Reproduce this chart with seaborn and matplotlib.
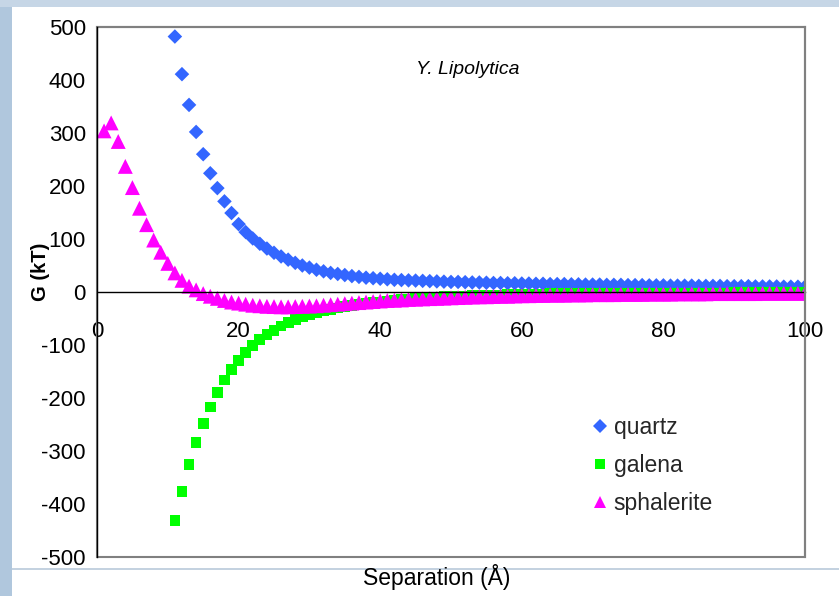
import numpy as np
import pandas as pd
import matplotlib
matplotlib.use("Agg")
import matplotlib.pyplot as plt
from matplotlib.patches import Rectangle
import seaborn as sns

# Interaction free energy G (kT) against separation (Å) for Y. lipolytica
quartz_sep = list(range(11, 101))
quartz_g = [482, 411, 353, 302, 260, 224, 196, 171, 149, 128,
            113, 101, 91, 82, 74, 67, 61, 55, 50, 46,
            42, 39, 36, 34, 32, 30, 28.5, 27, 26, 25,
            24, 23, 22.5, 22, 21.5, 21, 20.5, 20, 19.5, 19,
            19, 18.5, 18, 18, 17.5, 17, 17, 16.5, 16.5, 16,
            16, 15.5, 15.5, 15, 15, 15, 14.5, 14.5, 14, 14,
            14, 13.5, 13.5, 13.5, 13, 13, 13, 12.5, 12.5, 12.5,
            12, 12, 12, 12, 11.5, 11.5, 11.5, 11.5, 11, 11,
            11, 11, 10.5, 10.5, 10.5, 10.5, 10, 10, 10, 10]

galena_sep = list(range(11, 101))
galena_g = [-431, -376, -326, -284, -248, -217, -190, -166, -146, -129,
            -114, -101, -90, -80, -72, -64, -58, -52, -47, -43,
            -39, -36, -33, -30, -28, -26, -24, -22, -20.5, -19,
            -17.5, -16, -14.5, -13, -12, -11, -10, -9.5, -9, -8.5,
            -8, -7.5, -7, -6.5, -6, -5.5, -5.5, -5, -5, -4.5,
            -4.5, -4, -4, -3.5, -3.5, -3.5, -3, -3, -3, -3,
            -2.5, -2.5, -2.5, -2.5, -2.5, -2.5, -2.5, -2.5, -2.5, -2,
            -2, -2, -2, -2, -2, -2, -2, -2, -2, -1.5,
            -1.5, -1.5, -1.5, -1.5, -1.5, -1.5, -1.5, -1.5, -1.5, -1.5]

sphalerite_sep = list(range(1, 101))
sphalerite_g = [304, 319, 284, 237, 197, 158, 127, 98, 75, 54,
                36, 22, 11, 4, -3, -8, -12, -16, -19, -21,
                -23, -25, -26, -27, -27.5, -28, -28, -27.5, -27, -26.5,
                -26, -25, -24, -23, -22, -21, -20, -19, -18, -17,
                -16, -15.5, -15, -14, -13.5, -13, -12.5, -12, -11.5, -11,
                -10.5, -10, -9.5, -9, -9, -8.5, -8, -8, -7.5, -7,
                -7, -6.5, -6.5, -6, -6, -6, -5.5, -5.5, -5.5, -5,
                -5, -5, -5, -4.5, -4.5, -4.5, -4.5, -4, -4, -4,
                -4, -3.5, -3.5, -3.5, -3.5, -3.5, -3, -3, -3, -3,
                -3, -3, -3, -2.5, -2.5, -2.5, -2.5, -2.5, -2.5, -2.5]

minerals = ["quartz", "galena", "sphalerite"]
colors = {"quartz": "#3366FF", "galena": "#00FF00", "sphalerite": "#FF00FF"}
markers = {"quartz": "D", "galena": "s", "sphalerite": "^"}
marker_area = {"quartz": 55, "galena": 60, "sphalerite": 115}
legend_marker_size = {"quartz": 7.5, "galena": 7, "sphalerite": 8.5}

x_ticks = [0, 20, 40, 60, 80, 100]
y_ticks = [-500, -400, -300, -200, -100, 0, 100, 200, 300, 400, 500]

df = pd.concat([
    pd.DataFrame({"Separation": quartz_sep, "G": quartz_g, "mineral": "quartz"}),
    pd.DataFrame({"Separation": galena_sep, "G": galena_g, "mineral": "galena"}),
    pd.DataFrame({"Separation": sphalerite_sep, "G": sphalerite_g, "mineral": "sphalerite"}),
], ignore_index=True)

sns.set_theme(style="white")
plt.rcParams["font.family"] = ["Liberation Sans", "DejaVu Sans"]

fig = plt.figure(figsize=(8.39, 5.96), dpi=100)
fig.patch.set_facecolor("white")

# pale blue slide backdrop along the left and top edges
W, H = 839, 596
fig.patches.append(Rectangle((0, 0), 12 / W, 1, transform=fig.transFigure,
                             facecolor="#b0c7dd", edgecolor="none", zorder=0))
fig.patches.append(Rectangle((0, 1 - 7 / H), 1, 7 / H, transform=fig.transFigure,
                             facecolor="#c6d6e6", edgecolor="none", zorder=0))
fig.lines.append(plt.Line2D([12 / W, 1], [1 - 569 / H, 1 - 569 / H],
                            transform=fig.transFigure, color="#b9c9da", lw=1.2))

ax = fig.add_axes([97 / W, 1 - 557 / H, (805 - 97) / W, (557 - 27) / H])
ax.set_facecolor("white")

sns.scatterplot(data=df, x="Separation", y="G", hue="mineral", style="mineral",
                size="mineral", hue_order=minerals, style_order=minerals,
                size_order=minerals, sizes=marker_area,
                palette=colors, markers=markers, linewidth=0,
                ax=ax)

ax.set_xlim(0, 100)
ax.set_ylim(-500, 500)
ax.set_xticks(x_ticks)
ax.set_yticks(y_ticks)
ax.set_xticklabels([str(v) for v in x_ticks])
ax.set_yticklabels([str(v) for v in y_ticks])

# x axis drawn through G = 0, plot-area frame in grey
ax.spines["bottom"].set_position(("data", 0))
ax.spines["bottom"].set_color("black")
ax.spines["bottom"].set_linewidth(1.0)
ax.spines["left"].set_color("black")
ax.spines["left"].set_linewidth(1.0)
ax.spines["left"].set_zorder(5)
for side in ("top", "right"):
    ax.spines[side].set_color("#808080")
    ax.spines[side].set_linewidth(1.5)
ax.add_patch(Rectangle((0, 0), 1, 1, transform=ax.transAxes, fill=False,
                       edgecolor="#808080", lw=1.5, clip_on=False, zorder=4))

ax.tick_params(axis="both", which="major", direction="out", length=5, width=1,
               color="black", labelsize=16, labelcolor="black")
ax.tick_params(axis="y", pad=3)
ax.tick_params(axis="x", pad=16)

ax.set_xlabel("")
ax.set_ylabel("")
fig.text(437 / W, 1 - 577 / H, "Separation (Å)", ha="center", va="center",
         fontsize=16.5, color="black")
fig.text(41 / W, 1 - 272 / H, "G (kT)", ha="center", va="center", rotation=90,
         fontsize=14.5, fontweight="bold", color="black")
ax.text(468 / W, 1 - 70 / H, "Y. Lipolytica", transform=fig.transFigure,
        ha="center", va="center", fontsize=14, fontstyle="italic", color="black")

handles, labels = ax.get_legend_handles_labels()
for h, lab in zip(handles, labels):
    if lab in legend_marker_size:
        h.set_markersize(legend_marker_size[lab])
leg = ax.legend(handles, labels, loc="upper left", bbox_to_anchor=(0.678, 0.284),
                frameon=False, fontsize=16.5, handletextpad=0.0,
                labelspacing=0.66, borderaxespad=0, handlelength=1.2)

fig.savefig("out.png", dpi=100, facecolor=fig.get_facecolor())
